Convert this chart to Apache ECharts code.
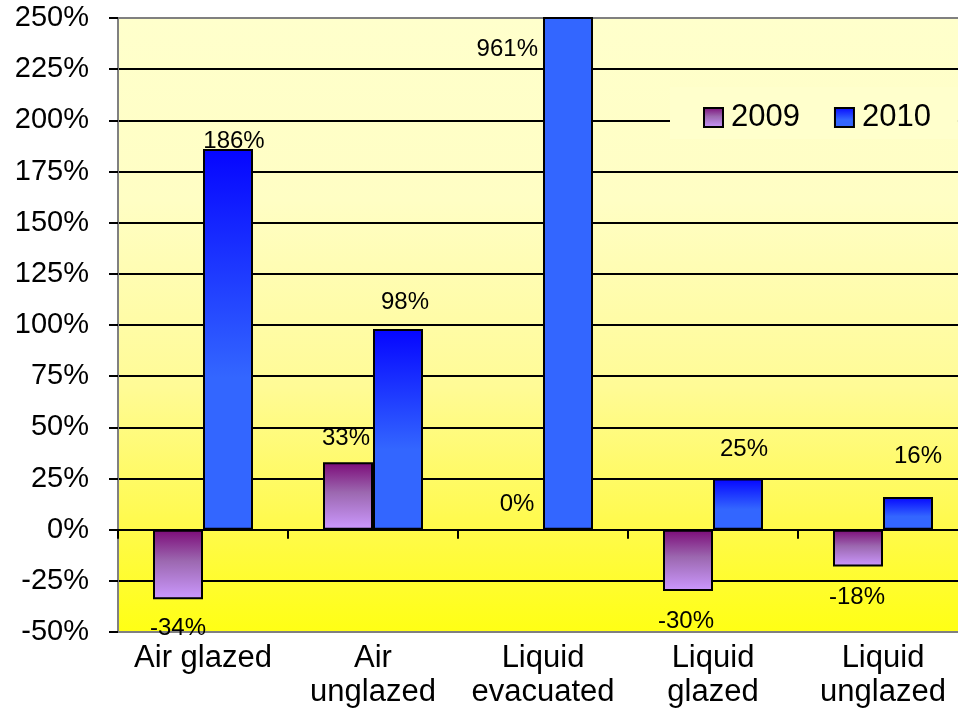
<!DOCTYPE html>
<html>
<head>
<meta charset="utf-8">
<title>Collector sales change 2009 / 2010</title>
<script src="https://cdn.jsdelivr.net/npm/echarts@6/dist/echarts.min.js"></script>
<style>
  html, body { margin: 0; padding: 0; background: #ffffff; }
  #chart { width: 958px; height: 711px; }
</style>
</head>
<body>
<div id="chart"></div>
<script>
// Collector types on the category axis
const categories = ['Air glazed', 'Air\nunglazed', 'Liquid\nevacuated', 'Liquid\nglazed', 'Liquid\nunglazed'];
// Year-on-year change, percent
const values2009 = [-34, 33, 0, -30, -18];
const values2010 = [186, 98, 961, 25, 16];
// Value axis range and step, percent
const yMin = -50;
const yMax = 250;
const yStep = 25;

const FONT = 'Liberation Sans, Arial, sans-serif';

// Label placement per bar: [position, distance, dx, dy]
const labelPlace2009 = [
  ['bottom', 17, 0, 0],
  ['top', 12, -2, 0],
  ['top', 13, -1, 0],
  ['bottom', 18, -2, 0],
  ['bottom', 19, -1, 0]
];
const labelPlace2010 = [
  ['top', -2, 6, 2],
  ['top', 15, 7, 0],
  ['left', 5, 0, -224],
  ['top', 17, 6, 0],
  ['top', 29, 10, 0]
];

const grad = (stops) => ({
  type: 'linear', x: 0, y: 0, x2: 0, y2: 1,
  colorStops: stops.map(([offset, color]) => ({ offset, color }))
});

const purpleFill = grad([[0, '#7c0a78'], [0.45, '#9c68b0'], [1, '#cc99ff']]);
const blueFill = grad([[0, '#0505ff'], [0.6, '#3366ff'], [1, '#3366ff']]);

function buildData(values, places, clipColor) {
  return values.map((v, i) => {
    const [position, distance, dx, dy] = places[i];
    const item = {
      value: v,
      label: { position, distance, offset: [dx, dy] }
    };
    if (v > yMax) item.itemStyle = { color: clipColor };
    if (v === 0) item.itemStyle = { borderWidth: 0 };
    return item;
  });
}

const labelStyle = {
  show: true,
  formatter: (p) => p.value + '%',
  fontFamily: FONT,
  fontSize: 24,
  color: '#000'
};

const chart = echarts.init(document.getElementById('chart'), null, { renderer: 'canvas' });

chart.setOption({
  backgroundColor: '#ffffff',
  animation: false,
  grid: {
    left: 118,
    top: 18,
    width: 850,
    bottom: 79,
    outerBoundsMode: 'none',
    containLabel: false,
    show: true,
    borderColor: '#808080',
    borderWidth: 2,
    backgroundColor: grad([
      [0, '#ffffcc'],
      [0.3, '#fffec4'],
      [0.6, '#fffb96'],
      [0.82, '#fffa4e'],
      [1, '#ffff14']
    ])
  },
  legend: {
    left: 670,
    top: 87,
    padding: [15, 27, 6, 33],
    backgroundColor: '#ffffcc',
    itemWidth: 19,
    itemHeight: 19,
    itemGap: 34,
    icon: 'rect',
    textStyle: { fontFamily: FONT, fontSize: 31, color: '#000', padding: [0, 0, 0, 3] },
    data: ['2009', '2010']
  },
  xAxis: [
    {
      type: 'category',
      data: categories,
      position: 'bottom',
      axisLine: { show: false, onZero: false },
      axisTick: { show: false },
      splitLine: { show: false },
      axisLabel: {
        interval: 0,
        margin: 9,
        fontFamily: FONT,
        fontSize: 31,
        lineHeight: 34,
        color: '#000'
      }
    },
    {
      type: 'category',
      data: categories,
      position: 'bottom',
      axisLine: { show: true, onZero: true, lineStyle: { color: '#000', width: 2 } },
      axisTick: { show: true, inside: false, length: 9, lineStyle: { color: '#000', width: 2 } },
      axisLabel: { show: false },
      splitLine: { show: false }
    }
  ],
  yAxis: {
    type: 'value',
    min: yMin,
    max: yMax,
    interval: yStep,
    axisLine: { show: true, lineStyle: { color: '#808080', width: 2 } },
    axisTick: { show: true, length: 9, lineStyle: { color: '#000', width: 2 } },
    axisLabel: {
      margin: 29,
      formatter: '{value}%',
      fontFamily: FONT,
      fontSize: 29,
      color: '#000'
    },
    splitLine: {
      show: true,
      showMinLine: false,
      showMaxLine: false,
      lineStyle: { color: '#000', width: 2 }
    }
  },
  series: [
    {
      name: '2009',
      type: 'bar',
      xAxisIndex: 0,
      barWidth: 50,
      barGap: '0%',
      clip: true,
      itemStyle: { color: purpleFill, borderColor: '#000', borderWidth: 2 },
      label: labelStyle,
      data: buildData(values2009, labelPlace2009, '#3366ff')
    },
    {
      name: '2010',
      type: 'bar',
      xAxisIndex: 0,
      barWidth: 50,
      barGap: '0%',
      clip: true,
      itemStyle: { color: blueFill, borderColor: '#000', borderWidth: 2 },
      label: labelStyle,
      data: buildData(values2010, labelPlace2010, '#3366ff')
    }
  ]
});
</script>
</body>
</html>
